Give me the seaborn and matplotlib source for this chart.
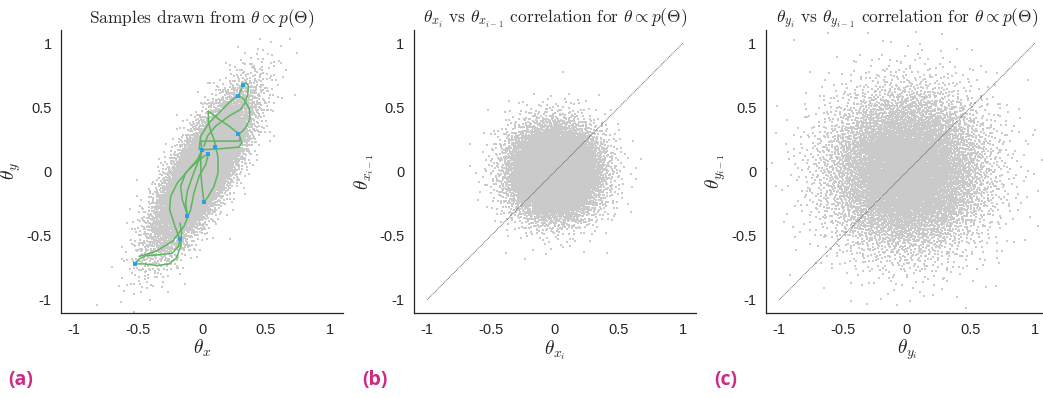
import matplotlib

matplotlib.use("Agg")

import matplotlib.pyplot as plt
import numpy as np
import pandas as pd
import seaborn as sns

# ---- values ---------------------------------------------------------------
# sample clouds: centre, spread along / across principal axis, axis angle (deg), count
cloud_a = {"center": [0.0, 0.0], "sd_major": 0.34, "sd_minor": 0.105, "angle": 60.0, "n": 9000}
cloud_b = {"center": [0.0, 0.0], "sd_major": 0.18, "sd_minor": 0.18, "angle": 0.0, "n": 9000}
cloud_c = {"center": [0.0, 0.0], "sd_major": 0.31, "sd_minor": 0.31, "angle": 0.0, "n": 9000}

# HMC trajectories in panel (a), one list per strand
traj_x = [
    [-0.531, -0.492, -0.440, -0.336, -0.232, -0.185, -0.172],
    [-0.531, -0.453, -0.349, -0.258, -0.201, -0.167, -0.159, -0.172],
    [-0.172, -0.211, -0.253, -0.245, -0.193, -0.115, -0.036, 0.0],
    [-0.492, -0.362, -0.232, -0.141, -0.089, -0.063, -0.023, 0.029, 0.049],
    [0.0, -0.023, -0.070, -0.115, -0.128, -0.115],
    [-0.115, -0.154, -0.167, -0.128, -0.049, 0.016, 0.049],
    [0.107, 0.125, 0.125, 0.094, 0.049, 0.016],
    [0.016, 0.003, -0.010, -0.010, -0.003, -0.008],
    [-0.008, 0.133, 0.289, 0.302],
    [0.0, 0.133, 0.289, 0.310, 0.289],
    [0.049, 0.133, 0.211, 0.276, 0.294],
    [-0.023, -0.010, 0.055, 0.133, 0.211, 0.284],
    [0.284, 0.328, 0.372, 0.372, 0.341, 0.289],
    [0.320, 0.341, 0.362, 0.357, 0.336, 0.302, 0.211, 0.107, 0.042, 0.016],
    [0.284, 0.302, 0.320],
    [0.107, 0.094, 0.068, 0.049, 0.049],
]
traj_y = [
    [-0.719, -0.682, -0.656, -0.648, -0.635, -0.583, -0.531],
    [-0.719, -0.719, -0.732, -0.719, -0.674, -0.583, -0.479, -0.401],
    [-0.531, -0.427, -0.297, -0.193, -0.089, 0.003, 0.094, 0.169],
    [-0.661, -0.622, -0.544, -0.427, -0.297, -0.167, -0.036, 0.055, 0.133],
    [0.169, 0.094, -0.023, -0.154, -0.245, -0.336],
    [-0.336, -0.219, -0.115, -0.010, 0.068, 0.120, 0.133],
    [0.193, 0.107, -0.010, -0.115, -0.193, -0.240],
    [-0.240, -0.141, -0.010, 0.094, 0.172, 0.237],
    [0.237, 0.237, 0.237, 0.263],
    [0.169, 0.177, 0.190, 0.224, 0.289],
    [0.471, 0.406, 0.354, 0.302, 0.276],
    [0.172, 0.276, 0.380, 0.458, 0.536, 0.596],
    [0.596, 0.563, 0.484, 0.406, 0.341, 0.289],
    [0.674, 0.693, 0.667, 0.602, 0.536, 0.484, 0.432, 0.354, 0.276, 0.198],
    [0.596, 0.628, 0.674],
    [0.193, 0.250, 0.315, 0.393, 0.471],
]

# accepted samples (blue markers)
sample_x = [-0.526, -0.172, -0.12, 0.013, 0.0, 0.05, 0.10, 0.284, 0.284, 0.32]
sample_y = [-0.72, -0.523, -0.344, -0.234, 0.17, 0.138, 0.19, 0.29, 0.59, 0.67]

ticks = [-1, -0.5, 0, 0.5, 1]
tick_labels = ["-1", "-0.5", "0", "0.5", "1"]
titles = [
    r"Samples drawn from $\theta \propto p(\Theta)$",
    r"$\theta_{x_i}$ vs $\theta_{x_{i-1}}$ correlation for $\theta \propto p(\Theta)$",
    r"$\theta_{y_i}$ vs $\theta_{y_{i-1}}$ correlation for $\theta \propto p(\Theta)$",
]
xlabels = [r"$\theta_x$", r"$\theta_{x_i}$", r"$\theta_{y_i}$"]
ylabels = [r"$\theta_y$", r"$\theta_{x_{i-1}}$", r"$\theta_{y_{i-1}}$"]
panel_tags = ["(a)", "(b)", "(c)"]

CLOUD = "#cacaca"
GREEN = "#5cb65c"
BLUE = "#2b9fe8"
TAG = "#cf2a86"


def _halton(n: int, base: int, start: int = 1) -> np.ndarray:
    seq = np.zeros(n)
    idx = np.arange(start, start + n)
    f = 1.0
    while np.any(idx > 0):
        f /= base
        seq += f * (idx % base)
        idx //= base
    return seq


def _cloud(spec: dict, start: int) -> pd.DataFrame:
    # deterministic low-discrepancy fill of the ellipse described by spec
    n = spec["n"]
    u1 = _halton(n, 2, start)
    u2 = _halton(n, 3, start)
    r = np.sqrt(-2.0 * np.log(u1))
    z1 = r * np.cos(2 * np.pi * u2) * spec["sd_major"]
    z2 = r * np.sin(2 * np.pi * u2) * spec["sd_minor"]
    a = np.deg2rad(spec["angle"])
    x = spec["center"][0] + z1 * np.cos(a) - z2 * np.sin(a)
    y = spec["center"][1] + z1 * np.sin(a) + z2 * np.cos(a)
    return pd.DataFrame({"x": x, "y": y})


def _style(ax: plt.Axes, i: int) -> None:
    ax.set_xlim(-1.1, 1.1)
    ax.set_ylim(-1.1, 1.1)
    ax.set_xticks(ticks)
    ax.set_xticklabels(tick_labels)
    ax.set_yticks(ticks)
    ax.set_yticklabels(tick_labels)
    ax.tick_params(direction="in", length=3, width=0.8, labelsize=10.5, pad=7, colors="#262626")
    for lab in ax.get_xticklabels() + ax.get_yticklabels():
        lab.set_family("Liberation Sans")
    sns.despine(ax=ax)
    for side in ("left", "bottom"):
        ax.spines[side].set_color("#262626")
        ax.spines[side].set_linewidth(0.9)
    ax.set_title(titles[i], fontsize=12.5, family="cmr10", pad=5)
    ax.set_xlabel(xlabels[i], fontsize=14, labelpad=1)
    ax.set_ylabel(ylabels[i], fontsize=14)
    ax.yaxis.set_label_coords(-0.135, 0.5)
    ax.set_facecolor("white")


sns.set_theme(style="white")
plt.rcParams["mathtext.fontset"] = "cm"
plt.rcParams["axes.unicode_minus"] = False
plt.rcParams["axes.formatter.use_mathtext"] = True

fig = plt.figure(figsize=(10.43, 3.98), dpi=100)
positions = [
    [0.0587, 0.214, 0.27, 0.710],
    [0.397, 0.214, 0.27, 0.710],
    [0.7346, 0.214, 0.27, 0.710],
]
axes = [fig.add_axes(p) for p in positions]

clouds = [_cloud(cloud_a, 1), _cloud(cloud_b, 20001), _cloud(cloud_c, 40001)]

for i, ax in enumerate(axes):
    sns.scatterplot(data=clouds[i], x="x", y="y", ax=ax, color=CLOUD, s=1.6,
                    marker="s", linewidth=0, legend=False, rasterized=True)
    if i > 0:
        ax.plot([ticks[0], ticks[-1]], [ticks[0], ticks[-1]], color="#444444",
                lw=0.6, ls=(0, (1, 1)))
    _style(ax, i)

# trajectories and accepted samples on panel (a)
for xs, ys in zip(traj_x, traj_y):
    axes[0].plot(xs, ys, color=GREEN, lw=1.1, solid_joinstyle="round", solid_capstyle="round")
sns.scatterplot(x=sample_x, y=sample_y, ax=axes[0], color=BLUE, s=7, marker="s",
                linewidth=0, legend=False, zorder=5)

tag_x = [0.008, 0.347, 0.685]
for tx, tag in zip(tag_x, panel_tags):
    fig.text(tx, 0.045, tag, fontsize=14, weight="bold", color=TAG,
             family="Open Sans", va="center", ha="left")

fig.savefig("out.png", dpi=100, facecolor="white")
